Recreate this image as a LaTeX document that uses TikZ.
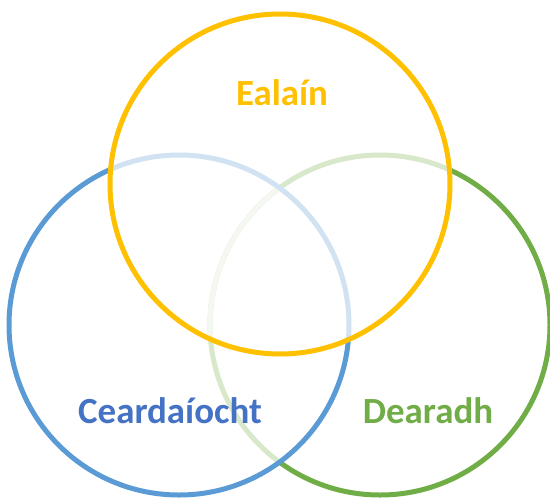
\documentclass[tikz,border=0pt]{standalone}
\usepackage{fontspec}
\setmainfont{Carlito}
\definecolor{ealainYellow}{HTML}{FFC000}
\definecolor{ceardBlue}{HTML}{5B9BD5}
\definecolor{ceardText}{HTML}{4472C4}
\definecolor{dearGreen}{HTML}{70AD47}
% a ring of width 0.1cm round a named centre (outer edge one way, inner edge back)
\newcommand{\vennring}[2]{\fill[#2] (#1) ++(3.45,0) arc[start angle=0,end angle=360,radius=3.45]
	-- ++(-0.1,0) arc[start angle=360,end angle=0,radius=3.35] -- cycle;}

\begin{document}
\begin{tikzpicture}
		% Venn diagram
		\useasboundingbox (0,0) rectangle (11,-10.04);
		\tikzset{tagtext/.style={font=\bfseries\fontsize{21}{25}\selectfont,anchor=base}}
		\coordinate (Dearadh) at (7.6,-6.5);
		\coordinate (Ceardaiocht) at (3.58,-6.5);
		\coordinate (Ealain) at (5.6,-3.68);

		% green ring, pale where the blue ring lies over it
		\vennring{Dearadh}{dearGreen}
		\fill[white] (Ceardaiocht) circle (3.4);
		\begin{scope}
			\clip (Ceardaiocht) circle (3.4);
			\vennring{Dearadh}{dearGreen!28!white}
		\end{scope}
		\vennring{Ceardaiocht}{ceardBlue}
		% yellow ring on top, the others pale beneath it
		\fill[white] (Ealain) circle (3.4);
		\begin{scope}
			\clip (Ealain) circle (3.4);
			\vennring{Dearadh}{dearGreen!28!white}
			\begin{scope}
				\clip (Ceardaiocht) circle (3.4);
				\vennring{Dearadh}{dearGreen!8!white}
			\end{scope}
			\vennring{Ceardaiocht}{ceardBlue!28!white}
		\end{scope}
		\vennring{Ealain}{ealainYellow}

		\node[tagtext,text=ealainYellow] (EalainText) at (5.64,-2.1) {Ealaín};
		\node[tagtext,text=ceardText] (CeardText) at (3.4,-8.46) {Ceardaíocht};
		\node[tagtext,text=dearGreen] (DearText) at (8.56,-8.46) {Dearadh};
		
		\end{tikzpicture}
\end{document}
